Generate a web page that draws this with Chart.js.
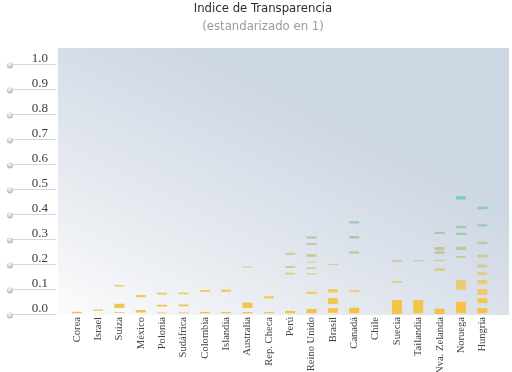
<!DOCTYPE html>
<html>
<head>
<meta charset="utf-8">
<script src="https://cdn.jsdelivr.net/npm/chart.js"></script>
<style>
  html, body { margin: 0; padding: 0; background: #fff; }
</style>
</head>
<body>
<canvas id="myChart" width="512" height="372"></canvas>
<script>
// categories
var countries = ['Corea', 'Israel', 'Suiza', 'México', 'Polonia', 'Sudáfrica', 'Colombia', 'Islandia',
    'Australia', 'Rep. Checa', 'Perú', 'Reino Unido', 'Brasil', 'Canadá', 'Chile', 'Suecia',
    'Tailandia', 'Nva. Zelanda', 'Noruega', 'Hungría'];

// segments per country, [from, to]
var corea = [[0.003, 0.009]];
var israel = [[0.013, 0.018]];
var suiza = [[0.005, 0.008], [0.024, 0.041], [0.110, 0.116]];
var mexico = [[0.006, 0.016], [0.067, 0.076]];
var polonia = [[0.003, 0.006], [0.030, 0.037], [0.078, 0.085]];
var sudafrica = [[0.003, 0.006], [0.031, 0.038], [0.079, 0.086]];
var colombia = [[0.003, 0.008], [0.088, 0.096]];
var islandia = [[0.003, 0.008], [0.088, 0.098]];
var australia = [[0.003, 0.008], [0.024, 0.046], [0.186, 0.190]];
var repCheca = [[0.003, 0.008], [0.062, 0.071]];
var peru = [[0.003, 0.012], [0.158, 0.165], [0.184, 0.192], [0.237, 0.245]];
var reinoUnido = [[0.003, 0.020], [0.080, 0.089], [0.158, 0.163], [0.180, 0.186], [0.206, 0.209],
    [0.229, 0.240], [0.276, 0.283], [0.302, 0.310]];
var brasil = [[0.005, 0.023], [0.040, 0.064], [0.086, 0.100], [0.196, 0.200]];
var canada = [[0.003, 0.025], [0.088, 0.095], [0.241, 0.251], [0.302, 0.312], [0.362, 0.371]];
var chile = [];
var suecia = [[0.000, 0.056], [0.125, 0.132], [0.209, 0.216]];
var tailandia = [[0.003, 0.056], [0.211, 0.216]];
var nvaZelanda = [[0.000, 0.021], [0.172, 0.183], [0.211, 0.217], [0.240, 0.252], [0.256, 0.268],
    [0.320, 0.329]];
var noruega = [[0.003, 0.049], [0.097, 0.136], [0.225, 0.232], [0.256, 0.269], [0.316, 0.325],
    [0.343, 0.352], [0.458, 0.471]];
var hungria = [[0.003, 0.023], [0.043, 0.063], [0.076, 0.099], [0.119, 0.136], [0.156, 0.167],
    [0.187, 0.198], [0.226, 0.238], [0.280, 0.289], [0.350, 0.359], [0.419, 0.429]];

var marks = [corea, israel, suiza, mexico, polonia, sudafrica, colombia, islandia, australia, repCheca,
    peru, reinoUnido, brasil, canada, chile, suecia, tailandia, nvaZelanda, noruega, hungria];

// tick labels
var yTicks = [0, 0.1, 0.2, 0.3, 0.4, 0.5, 0.6, 0.7, 0.8, 0.9, 1.0];

var titleText = 'Indice de Transparencia';
var subtitleText = '(estandarizado en 1)';

// colour goes from orange at the bottom to teal higher up
function markColor(v) {
    var stops = [[0, [246, 192, 58]], [0.1, [238, 204, 110]], [0.2, [208, 204, 150]],
        [0.3, [178, 198, 170]], [0.47, [118, 206, 200]]];
    if (v <= stops[0][0]) return 'rgb(' + stops[0][1].join(',') + ')';
    for (var i = 1; i < stops.length; i++) {
        if (v <= stops[i][0]) {
            var a = stops[i - 1], b = stops[i];
            var t = (v - a[0]) / (b[0] - a[0]);
            var c = a[1].map(function(x, k) { return Math.round(x + (b[1][k] - x) * t); });
            return 'rgb(' + c.join(',') + ')';
        }
    }
    return 'rgb(' + stops[stops.length - 1][1].join(',') + ')';
}

var maxSeg = Math.max.apply(null, marks.map(function(m) { return m.length; }));
var datasets = [];
for (var i = 0; i < maxSeg; i++) {
    datasets.push({
        data: marks.map(function(m) { return m[i] || null; }),
        grouped: false,
        categoryPercentage: 1,
        barPercentage: 0.47,
        borderWidth: 0,
        borderSkipped: false,
        backgroundColor: function(ctx) {
            var r = ctx.raw;
            if (!r) return 'transparent';
            return markColor((r[0] + r[1]) / 2);
        }
    });
}

var decoPlugin = {
    id: 'deco',
    beforeDraw: function(chart) {
        var c = chart.ctx, a = chart.chartArea;
        var x0 = a.left - 8, x1 = a.right + 16, y0 = a.top - 16, y1 = a.bottom + 1;
        var g = c.createLinearGradient(x0, y1, x0 + (x1 - x0) * 0.3, y0);
        g.addColorStop(0, '#fcfcfd');
        g.addColorStop(0.3, '#eceff3');
        g.addColorStop(1, '#cdd6e3');
        c.save();
        c.fillStyle = g;
        c.fillRect(x0, y0, x1 - x0, y1 - y0);
        c.restore();
    },
    afterDraw: function(chart) {
        var c = chart.ctx, y = chart.scales.y, x = chart.scales.x;
        c.save();
        // y axis: short lines with round knobs
        yTicks.forEach(function(t) {
            var py = Math.round(y.getPixelForValue(t)) + 0.5;
            c.strokeStyle = '#d3d7dd';
            c.lineWidth = 1;
            c.beginPath();
            c.moveTo(12, py);
            c.lineTo(56, py);
            c.stroke();
            var g = c.createRadialGradient(9.5, py - 0.5, 0.5, 10, py + 0.5, 3.2);
            g.addColorStop(0, '#f4f5f7');
            g.addColorStop(1, '#b3b8c2');
            c.fillStyle = g;
            c.beginPath();
            c.arc(10, py + 1, 3, 0, Math.PI * 2);
            c.fill();
            c.fillStyle = '#3a3a3a';
            c.font = '13px "Liberation Serif"';
            c.textAlign = 'right';
            c.textBaseline = 'alphabetic';
            c.fillText(t.toFixed(1), 48, py - 3);
        });
        // x labels, narrow serif, rotated
        c.fillStyle = '#444';
        c.font = '11px "Liberation Serif"';
        c.textAlign = 'right';
        c.textBaseline = 'middle';
        countries.forEach(function(name, i) {
            var px = x.getPixelForValue(i);
            c.save();
            c.translate(px, chart.chartArea.bottom + 3);
            c.rotate(-Math.PI / 2);
            c.scale(0.96, 1);
            c.fillText(name, 0, 0);
            c.restore();
        });
        c.textAlign = 'center';
        c.textBaseline = 'alphabetic';
        c.fillStyle = '#2e2e2e';
        c.font = '13px "DejaVu Sans Condensed"';
        c.fillText(titleText, 263, 12);
        c.fillStyle = '#9a9a9a';
        c.fillText(subtitleText, 263, 30);
        c.restore();
    }
};

var ctx = document.getElementById('myChart').getContext('2d');
var myChart = new Chart(ctx, {
    type: 'bar',
    data: { labels: countries, datasets: datasets },
    options: {
        responsive: false,
        animation: false,
        devicePixelRatio: 1,
        layout: { padding: { left: 66, right: 19, top: 64, bottom: 0 } },
        plugins: { legend: { display: false }, tooltip: { enabled: false }, title: { display: false } },
        scales: {
            x: {
                grid: { display: false },
                border: { display: false },
                afterFit: function(scale) { scale.height = 58; },
                ticks: { display: false }
            },
            y: { display: false, min: 0, max: 1 }
        }
    },
    plugins: [decoPlugin]
});
</script>
</body>
</html>
